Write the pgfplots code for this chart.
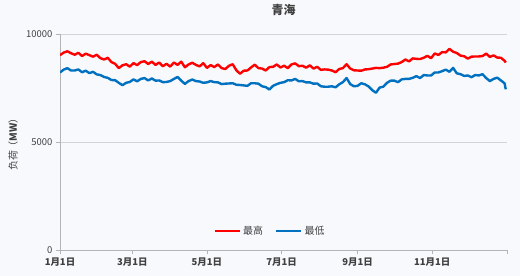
\documentclass[border=0pt]{standalone}
\usepackage{fontspec}
\setmainfont{Noto Sans CJK SC}
\usepackage{pgfplots}
\pgfplotsset{compat=1.18}
\definecolor{bgc}{HTML}{F7F9FC}
\definecolor{redc}{HTML}{FF0000}
\definecolor{bluec}{HTML}{0070C0}
\definecolor{gridc}{HTML}{D4D4D8}
\definecolor{axc}{HTML}{B4B4B8}
\definecolor{txt}{HTML}{404040}
\begin{document}
\begin{tikzpicture}
\fill[bgc] (0,0) rectangle (520bp,276bp);
\begin{axis}[
  at={(60bp,26bp)}, anchor=south west,
  scale only axis, width=447bp, height=216bp,
  xmin=0, xmax=365, ymin=0, ymax=10000,
  axis x line*=bottom, axis y line*=left,
  axis line style={axc, line width=0.8pt, -},
  xtick={0,59,120,181,243,304,365},
  xticklabels={1月1日,3月1日,5月1日,7月1日,9月1日,11月1日,},
  ytick={0,5000,10000},
  scaled y ticks=false,
  ymajorgrids, grid style={gridc, line width=0.8pt},
  tick style={axc, line width=0.8pt},
  tick align=outside, major tick length=4bp,
  /pgf/number format/1000 sep={},
  /pgf/number format/assume math mode=true,
  ticklabel style={font=\fontsize{9.5}{11}\selectfont\bfseries, text=txt},
  yticklabel style={font=\fontsize{9.5}{11}\selectfont, text=txt},
  title={青海},
  title style={font=\fontsize{12}{14}\selectfont\bfseries, text=txt, at={(axis description cs:0.5,1)}, anchor=center, yshift=18bp},
  ylabel={负荷（\textbf{MW}）},
  ylabel style={font=\fontsize{10}{12}\selectfont, text=txt, at={(axis description cs:-0.105,0.5)}, anchor=center},
  legend style={at={(axis description cs:0.47,0.088)}, anchor=center, draw=none, fill=none,
    font=\fontsize{10}{12}\selectfont, text=txt, legend columns=2,
    /tikz/every even column/.append style={column sep=10bp}},
  legend image code/.code={\draw[#1, line width=2.5pt] (0bp,0bp) -- (25bp,0bp);},
]
\addplot[redc, line width=2.4pt, line join=round] coordinates {
(0,9020)(3,9140)(6,9200)(9,9110)(12,9040)(15,9130)(18,8980)(21,9090)(24,9020)(27,8950)
(30,9040)(33,8880)(36,8820)(39,8900)(42,8700)(45,8620)(48,8420)(51,8550)(54,8600)(57,8490)
(60,8650)(63,8560)(66,8700)(69,8740)(72,8610)(75,8720)(78,8570)(81,8680)(84,8510)(87,8620)
(90,8490)(93,8680)(96,8570)(99,8720)(102,8460)(105,8590)(108,8670)(111,8570)(114,8500)(117,8650)
(120,8430)(123,8560)(126,8470)(129,8590)(132,8420)(135,8380)(138,8530)(141,8600)(144,8320)(147,8160)
(150,8300)(153,8310)(156,8450)(159,8580)(162,8420)(165,8400)(168,8310)(171,8470)(174,8480)(177,8590)
(180,8450)(183,8530)(186,8420)(189,8590)(192,8640)(195,8510)(198,8530)(201,8440)(204,8550)(207,8400)
(210,8480)(213,8340)(216,8360)(219,8350)(222,8310)(225,8230)(228,8380)(231,8420)(234,8600)(237,8400)
(240,8320)(243,8310)(246,8300)(249,8360)(252,8370)(255,8400)(258,8430)(261,8420)(264,8440)(267,8480)
(270,8590)(273,8610)(276,8630)(279,8700)(282,8820)(285,8730)(288,8870)(291,8850)(294,8840)(297,8900)
(300,8990)(303,8880)(306,9100)(309,9030)(312,9160)(315,9150)(318,9310)(321,9180)(324,9120)(327,9000)
(330,8970)(333,8860)(336,8950)(339,8960)(342,8960)(345,8980)(348,9090)(351,8940)(354,9010)(357,8910)
(360,8900)(363,8760)(364,8680)
};
\addlegendentry{最高}
\addplot[bluec, line width=2.4pt, line join=round] coordinates {
(0,8220)(3,8350)(6,8420)(9,8310)(12,8310)(15,8360)(18,8230)(21,8300)(24,8190)(27,8250)
(30,8130)(33,8100)(36,8010)(39,7970)(42,7870)(45,7860)(48,7740)(51,7630)(54,7740)(57,7780)
(60,7900)(63,7810)(66,7920)(69,7960)(72,7850)(75,7940)(78,7840)(81,7850)(84,7770)(87,7780)
(90,7820)(93,7920)(96,8010)(99,7840)(102,7690)(105,7820)(108,7890)(111,7820)(114,7800)(117,7740)
(120,7760)(123,7820)(126,7770)(129,7760)(132,7680)(135,7700)(138,7710)(141,7720)(144,7650)(147,7640)
(150,7620)(153,7600)(156,7720)(159,7720)(162,7700)(165,7580)(168,7540)(171,7430)(174,7600)(177,7680)
(180,7740)(183,7770)(186,7860)(189,7850)(192,7920)(195,7810)(198,7820)(201,7760)(204,7760)(207,7700)
(210,7710)(213,7580)(216,7560)(219,7560)(222,7580)(225,7530)(228,7670)(231,7770)(234,7960)(237,7680)
(240,7580)(243,7600)(246,7720)(249,7670)(252,7570)(255,7400)(258,7280)(261,7520)(264,7560)(267,7740)
(270,7840)(273,7840)(276,7770)(279,7900)(282,7920)(285,7920)(288,7970)(291,8050)(294,7960)(297,8100)
(300,8080)(303,8080)(306,8220)(309,8220)(312,8280)(315,8350)(318,8250)(321,8430)(324,8180)(327,8140)
(330,8060)(333,8080)(336,8000)(339,8100)(342,8080)(345,8140)(348,7960)(351,7820)(354,7920)(357,7980)
(360,7850)(363,7720)(364,7440)
};
\addlegendentry{最低}
\end{axis}
\end{tikzpicture}
\end{document}
